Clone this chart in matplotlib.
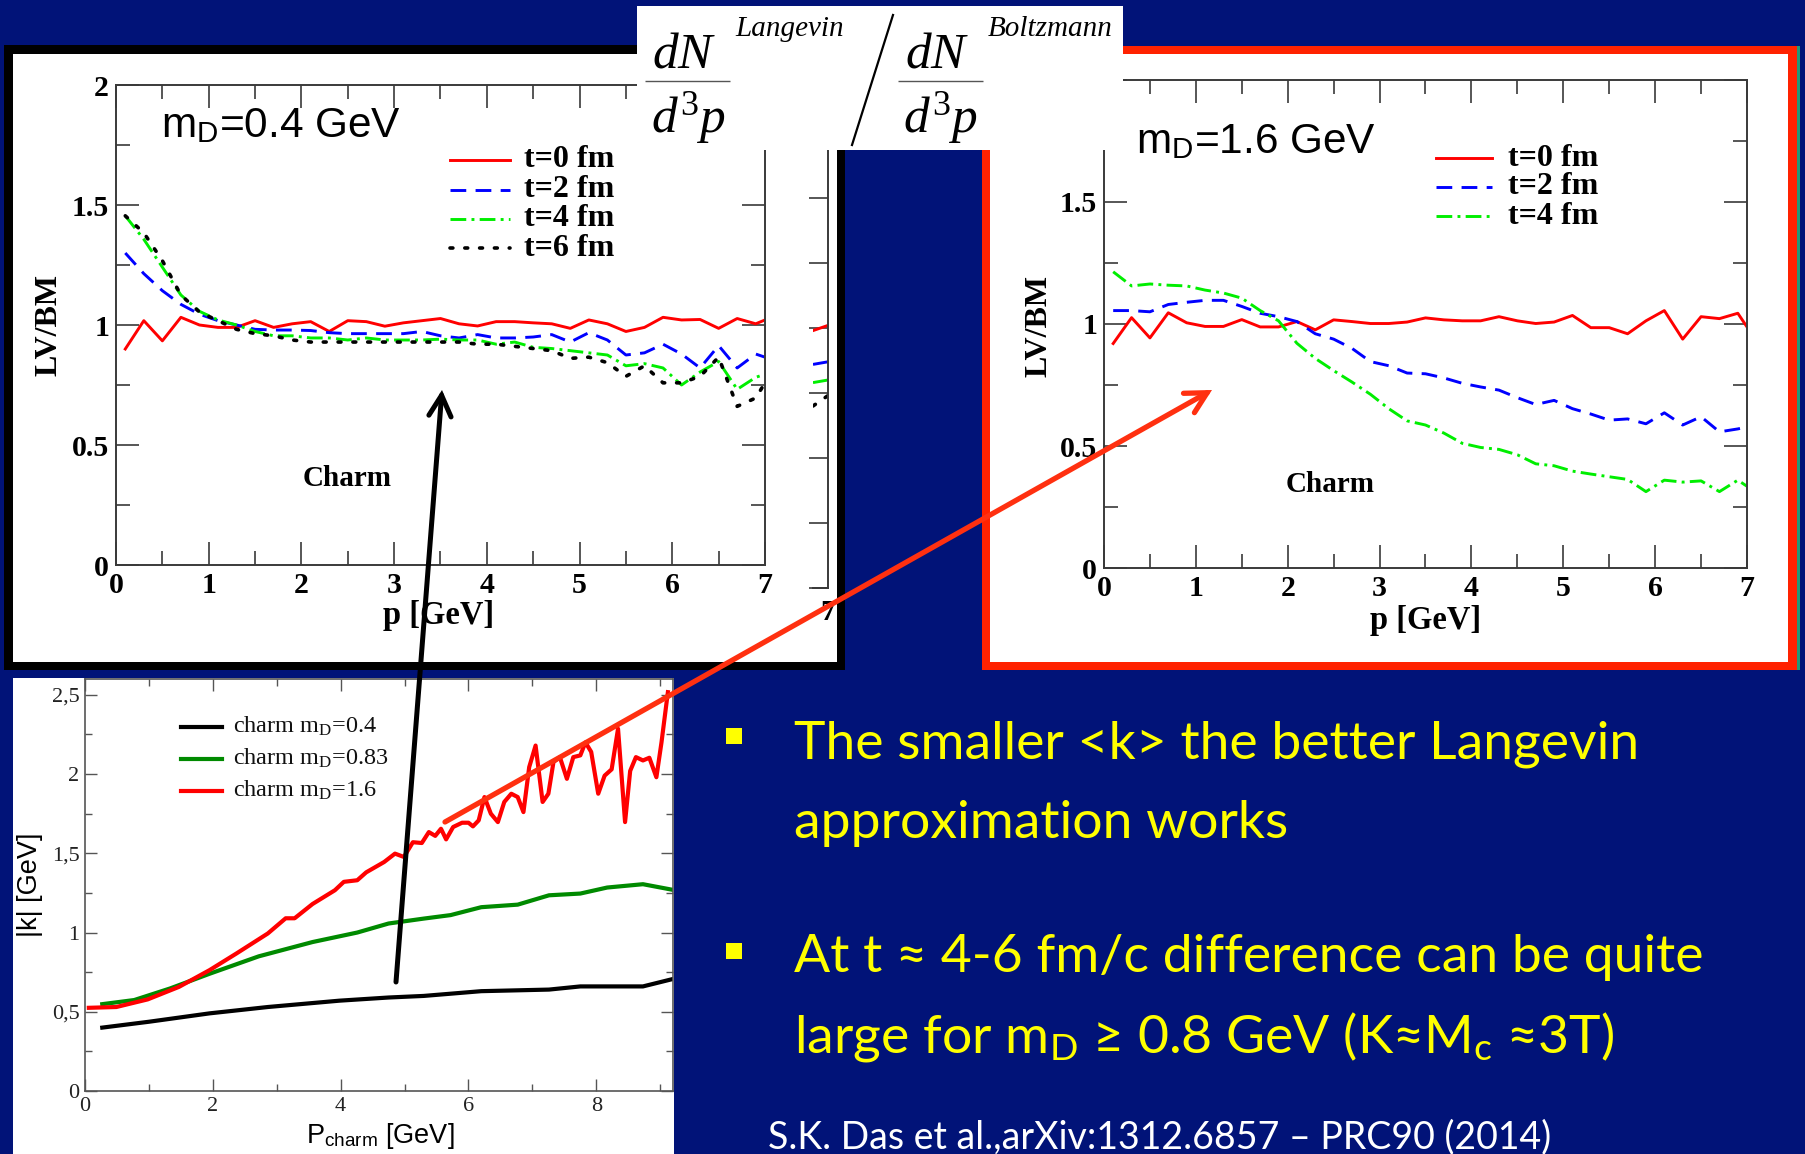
import matplotlib
matplotlib.use("Agg")
import matplotlib.pyplot as plt
from matplotlib.patches import Rectangle, FancyArrowPatch
from matplotlib.lines import Line2D
from matplotlib.ticker import MultipleLocator, FuncFormatter

plt.rcParams["mathtext.fontset"] = "custom"
plt.rcParams["mathtext.rm"] = "Liberation Serif"
plt.rcParams["mathtext.it"] = "Liberation Serif:italic"
plt.rcParams["mathtext.bf"] = "Liberation Serif:bold"

W, H = 1806, 1154
NAVY = "#011378"
SERIF = "Liberation Serif"
SANS = "Liberation Sans"
SLIDE_FONT = ["Lato", "DejaVu Sans"]

# LV/BM ratio vs p [GeV], charm, m_D = 0.4 GeV and m_D = 1.6 GeV
p_grid = [0.1, 0.3, 0.5, 0.7, 0.9, 1.1, 1.3, 1.5, 1.7, 1.9, 2.1, 2.3, 2.5, 2.7,
          2.9, 3.1, 3.3, 3.5, 3.7, 3.9, 4.1, 4.3, 4.5, 4.7, 4.9, 5.1, 5.3, 5.5,
          5.7, 5.9, 6.1, 6.3, 6.5, 6.7, 6.9, 7.0]

lv_04_t0 = [0.90, 1.018, 0.934, 1.032, 1.0, 0.99, 0.99, 1.018, 0.99, 1.005, 1.014, 0.973,
            1.018, 1.014, 0.995, 1.009, 1.018, 1.027, 1.005, 0.996, 1.014, 1.014, 1.009, 1.005,
            0.986, 1.021, 1.005, 0.973, 0.99, 1.032, 1.021, 1.023, 0.986, 1.027, 1.005, 1.021]
lv_04_t2 = [1.30, 1.214, 1.143, 1.086, 1.045, 1.018, 1.0, 0.982, 0.979, 0.979, 0.977, 0.968,
            0.964, 0.964, 0.964, 0.964, 0.973, 0.955, 0.946, 0.96, 0.946, 0.946, 0.95, 0.96,
            0.929, 0.968, 0.9375, 0.875, 0.884, 0.92, 0.879, 0.821, 0.914, 0.821, 0.879, 0.866]
lv_04_t4 = [1.455, 1.357, 1.241, 1.125, 1.057, 1.021, 1.0, 0.973, 0.955, 0.955, 0.946, 0.946,
            0.9375, 0.946, 0.9375, 0.9375, 0.9375, 0.941, 0.9375, 0.9375, 0.92, 0.929, 0.907, 0.902,
            0.893, 0.884, 0.875, 0.83, 0.839, 0.821, 0.75, 0.804, 0.848, 0.732, 0.782, 0.795]
lv_04_t6 = [1.455, 1.384, 1.268, 1.125, 1.054, 1.018, 0.982, 0.964, 0.955, 0.9375, 0.929, 0.929,
            0.929, 0.929, 0.929, 0.929, 0.929, 0.929, 0.929, 0.92, 0.92, 0.911, 0.902, 0.893,
            0.861, 0.866, 0.843, 0.786, 0.83, 0.759, 0.759, 0.786, 0.866, 0.661, 0.696, 0.759]

lv_16_t0 = [0.92, 1.026, 0.943, 1.046, 1.005, 0.99, 0.99, 1.018, 0.988, 0.988, 1.01, 0.976,
            1.017, 1.01, 1.002, 1.002, 1.008, 1.025, 1.017, 1.013, 1.013, 1.03, 1.013, 1.002,
            1.008, 1.035, 0.985, 0.985, 0.96, 1.013, 1.055, 0.938, 1.03, 1.022, 1.044, 0.988]
lv_16_t2 = [1.055, 1.055, 1.05, 1.08, 1.089, 1.097, 1.097, 1.072, 1.044, 1.03, 1.01, 0.96,
            0.938, 0.9, 0.846, 0.829, 0.799, 0.796, 0.779, 0.757, 0.742, 0.729, 0.698, 0.67,
            0.687, 0.653, 0.631, 0.606, 0.611, 0.591, 0.636, 0.586, 0.62, 0.558, 0.57, 0.578]
lv_16_t4 = [1.214, 1.156, 1.164, 1.159, 1.156, 1.139, 1.127, 1.106, 1.055, 1.013, 0.921, 0.859,
            0.809, 0.762, 0.712, 0.653, 0.603, 0.586, 0.553, 0.511, 0.494, 0.486, 0.464, 0.427,
            0.419, 0.397, 0.385, 0.374, 0.363, 0.313, 0.36, 0.352, 0.357, 0.313, 0.36, 0.335]

# right-hand edge of the neighbouring panel (only the last bit is shown)
side_p = [6.84, 7.0]
side_t0 = [0.99, 1.01]
side_t2 = [0.86, 0.87]
side_t4 = [0.79, 0.80]
side_t6 = [0.70, 0.74]

# mean momentum transfer |k| vs P_charm
k_p_04 = [0.27, 1.0, 1.95, 2.86, 3.98, 4.75, 5.3, 6.2, 7.26, 7.75, 8.73, 9.19]
k_04 = [0.40, 0.437, 0.49, 0.53, 0.57, 0.59, 0.60, 0.63, 0.64, 0.66, 0.66, 0.706]
k_p_083 = [0.27, 0.77, 1.33, 1.95, 2.72, 3.56, 4.26, 4.75, 5.3, 5.72, 6.2, 6.77, 7.26,
           7.75, 8.17, 8.73, 9.19]
k_083 = [0.548, 0.574, 0.647, 0.74, 0.85, 0.94, 1.0, 1.057, 1.088, 1.11, 1.16, 1.176, 1.235,
         1.246, 1.284, 1.305, 1.27]
k_p_16 = [0.06, 0.49, 0.98, 1.47, 1.95, 2.37, 2.86, 3.14, 3.28, 3.56, 3.91, 4.05, 4.26, 4.4,
          4.68, 4.85, 4.99, 5.13, 5.27, 5.38, 5.48, 5.57, 5.65, 5.76, 5.9, 6.0, 6.07, 6.16,
          6.25, 6.35, 6.46, 6.56, 6.67, 6.77, 6.86, 6.95, 7.05, 7.16, 7.25, 7.33, 7.43, 7.54,
          7.64, 7.75, 7.83, 7.92, 8.03, 8.13, 8.24, 8.34, 8.45, 8.53, 8.62, 8.73, 8.83, 8.94,
          9.02, 9.12]
k_16 = [0.525, 0.53, 0.578, 0.657, 0.763, 0.868, 0.994, 1.09, 1.09, 1.18, 1.267, 1.32, 1.33,
        1.38, 1.445, 1.498, 1.477, 1.57, 1.565, 1.634, 1.61, 1.655, 1.588, 1.666, 1.693, 1.693,
        1.67, 1.708, 1.855, 1.75, 1.697, 1.824, 1.876, 1.855, 1.76, 2.044, 2.18, 1.824, 1.876,
        2.076, 2.107, 1.97, 2.107, 2.118, 2.2, 2.14, 1.876, 1.99, 2.03, 2.286, 1.697, 2.02,
        2.107, 2.086, 2.103, 1.98, 2.2, 2.517]

lv_labels = ["t=0 fm", "t=2 fm", "t=4 fm", "t=6 fm"]
k_labels = [r"charm m$_\mathregular{D}$=0.4", r"charm m$_\mathregular{D}$=0.83",
            r"charm m$_\mathregular{D}$=1.6"]
notes = ["The smaller <k> the better Langevin",
         "approximation works",
         "At t \u2248 4-6 fm/c difference can be quite",
         "large for m$_\\mathregular{D}$ \u2265 0.8 GeV (K\u2248M$_\\mathregular{c}$ \u22483T)"]
reference = "S.K. Das et al.,arXiv:1312.6857 \u2013 PRC90 (2014)"

# line styles (colour, dash pattern, width) for t = 0, 2, 4, 6 fm
lv_styles = [("#ff0000", None, 2.1), ("#0000ff", (5.4, 3.2), 2.1),
             ("#00ee00", (5.4, 1.8, 1.0, 1.8), 2.1), ("#000000", (0.8, 3.3), 2.6)]
k_colors = ["#000000", "#008a00", "#ff0000"]


def fx(x):
    return x / W


def fy(y):
    return 1 - y / H


def px_box(x0, y0, x1, y1):
    return [x0 / W, 1 - y1 / H, (x1 - x0) / W, (y1 - y0) / H]


def add_rect(fig, x0, y0, x1, y1, color, z):
    fig.add_artist(Rectangle((fx(x0), fy(y1)), (x1 - x0) / W, (y1 - y0) / H,
                             transform=fig.transFigure, facecolor=color,
                             edgecolor="none", zorder=z))


def add_hline(fig, x0, x1, y, color, lw, z=6):
    fig.add_artist(Line2D([fx(x0), fx(x1)], [fy(y), fy(y)], transform=fig.transFigure,
                          color=color, lw=lw, zorder=z, solid_capstyle="butt"))


def apply_style(line, style):
    color, dashes, lw = style
    line.set_color(color)
    line.set_linewidth(lw)
    if dashes is not None:
        line.set_dashes(dashes)
        if dashes == lv_styles[3][1]:
            line.set_dash_capstyle("round")


def style_lv_axes(ax):
    ax.set_xlim(0, 7)
    ax.set_ylim(0, 2)
    ax.set_facecolor("none")
    ax.xaxis.set_major_locator(MultipleLocator(1))
    ax.xaxis.set_minor_locator(MultipleLocator(0.5))
    ax.yaxis.set_major_locator(MultipleLocator(0.5))
    ax.yaxis.set_minor_locator(MultipleLocator(0.25))
    fmt = FuncFormatter(lambda v, _: f"{v:g}")
    ax.xaxis.set_major_formatter(fmt)
    ax.yaxis.set_major_formatter(fmt)
    ax.tick_params(which="both", direction="in", top=True, right=True,
                   color="#3a3a3a", width=1.2)
    ax.tick_params(which="major", length=16.5, labelsize=21.5, pad=5,
                   labelfontfamily=SERIF)
    ax.tick_params(which="minor", length=10)
    for lbl in ax.get_xticklabels() + ax.get_yticklabels():
        lbl.set_fontweight("bold")
    for s in ax.spines.values():
        s.set_color("#3a3a3a")
        s.set_linewidth(1.4)


def lv_legend(fig, labels, x0, x1, xt, rows):
    for lab, st, yy in zip(labels, lv_styles, rows):
        ln = Line2D([fx(x0), fx(x1)], [fy(yy), fy(yy)], transform=fig.transFigure, zorder=3)
        apply_style(ln, st)
        fig.add_artist(ln)
        fig.text(fx(xt), fy(yy), lab, family=SERIF, weight="bold", fontsize=23, va="center")


fig = plt.figure(figsize=(W / 100, H / 100), dpi=100)
fig.patch.set_facecolor(NAVY)

# panel frames
add_rect(fig, 4, 45, 845, 670, "#000000", -3)
add_rect(fig, 13, 54, 837, 662, "#ffffff", -2)
add_rect(fig, 982, 46, 1797, 670, "#ff2200", -3)
add_rect(fig, 990, 54, 1788, 662, "#ffffff", -2)
add_rect(fig, 1797, 46, 1800, 670, "#1f9a78", -3)
add_rect(fig, 13, 678, 674, 1154, "#ffffff", -2)

# left panel: m_D = 0.4 GeV
ax1 = fig.add_axes(px_box(116, 85, 765, 565))
for vals, st in zip([lv_04_t0, lv_04_t2, lv_04_t4, lv_04_t6], lv_styles):
    line, = ax1.plot(p_grid, vals)
    apply_style(line, st)
style_lv_axes(ax1)
fig.text(fx(161), fy(137), r"m$_\mathregular{D}$=0.4 GeV", family=SANS, fontsize=30.5,
         va="baseline", ha="left")
lv_legend(fig, lv_labels, 450, 510, 524, [160, 190, 219, 248])
fig.text(fx(347), fy(478), "Charm", family=SERIF, weight="bold", fontsize=21,
         ha="center", va="center")
fig.text(fx(49), fy(325), "LV/BM", family=SERIF, weight="bold", fontsize=23,
         rotation=90, ha="center", va="center")
fig.text(fx(439), fy(615), "p [GeV]", family=SERIF, weight="bold", fontsize=23.5,
         ha="center", va="center")

# neighbouring panel edge
ax_side = fig.add_axes(px_box(813, 68, 828, 588))
for vals, st in zip([side_t0, side_t2, side_t4, side_t6], lv_styles):
    line, = ax_side.plot(side_p, vals)
    apply_style(line, st)
ax_side.set_xlim(6.84, 7.0)
ax_side.set_ylim(0, 2)
ax_side.set_facecolor("none")
ax_side.spines["left"].set_visible(False)
ax_side.spines["top"].set_visible(False)
for s in ["right", "bottom"]:
    ax_side.spines[s].set_color("#3a3a3a")
    ax_side.spines[s].set_linewidth(1.4)
ax_side.set_xticks([7.0])
ax_side.xaxis.set_major_formatter(FuncFormatter(lambda v, _: f"{v:g}"))
ax_side.yaxis.set_major_locator(MultipleLocator(0.25))
ax_side.tick_params(axis="y", direction="in", left=False, right=True, labelleft=False,
                    length=14, color="#3a3a3a", width=1.2)
ax_side.tick_params(axis="x", length=0, labelsize=21.5, pad=8, labelfontfamily=SERIF)
for lbl in ax_side.get_xticklabels():
    lbl.set_fontweight("bold")

# right panel: m_D = 1.6 GeV
ax2 = fig.add_axes(px_box(1104, 80, 1747, 568))
for vals, st in zip([lv_16_t0, lv_16_t2, lv_16_t4], lv_styles):
    line, = ax2.plot(p_grid, vals)
    apply_style(line, st)
style_lv_axes(ax2)
fig.text(fx(1136), fy(153), r"m$_\mathregular{D}$=1.6 GeV", family=SANS, fontsize=30.5,
         va="baseline", ha="left")
lv_legend(fig, lv_labels[:3], 1436, 1492, 1508, [158, 187, 216])
fig.text(fx(1330), fy(485), "Charm", family=SERIF, weight="bold", fontsize=21,
         ha="center", va="center")
fig.text(fx(1039), fy(326), "LV/BM", family=SERIF, weight="bold", fontsize=23,
         rotation=90, ha="center", va="center")
fig.text(fx(1426), fy(620), "p [GeV]", family=SERIF, weight="bold", fontsize=23.5,
         ha="center", va="center")

# bottom panel: |k| vs P_charm
ax3 = fig.add_axes(px_box(85, 679, 673, 1091))
for xs, ys, c in zip([k_p_04, k_p_083, k_p_16], [k_04, k_083, k_16], k_colors):
    ax3.plot(xs, ys, color=c, lw=3.0)
ax3.set_xlim(0, 9.2)
ax3.set_ylim(0, 2.6)
ax3.set_facecolor("none")
ax3.xaxis.set_major_locator(MultipleLocator(2))
ax3.xaxis.set_minor_locator(MultipleLocator(1))
ax3.yaxis.set_major_locator(MultipleLocator(0.5))
ax3.yaxis.set_minor_locator(MultipleLocator(0.25))
comma = FuncFormatter(lambda v, _: f"{v:g}".replace(".", ","))
ax3.xaxis.set_major_formatter(comma)
ax3.yaxis.set_major_formatter(comma)
ax3.tick_params(which="both", direction="in", top=True, right=True, color="#555555",
                width=1.0, labelcolor="#222222")
ax3.tick_params(which="major", length=8.5, labelsize=16, pad=4, labelfontfamily=SERIF)
ax3.tick_params(which="minor", length=5)
for s in ax3.spines.values():
    s.set_color("#555555")
    s.set_linewidth(1.2)
for lab, c, yy in zip(k_labels, k_colors, [727, 759, 791]):
    fig.add_artist(Line2D([fx(181), fx(222)], [fy(yy), fy(yy)], transform=fig.transFigure,
                          color=c, lw=3.0, zorder=3))
    fig.text(fx(233), fy(yy + 6), lab, family=SERIF, fontsize=17.5, va="baseline",
             color="#111111")
fig.text(fx(30), fy(885), "|k| [GeV]", family=SANS, fontsize=19.5, rotation=90,
         ha="center", va="center")
fig.text(fx(380), fy(1143), r"P$_\mathregular{charm}$ [GeV]", family=SANS, fontsize=19.5,
         ha="center", va="baseline")

# dN/d3p ratio header
add_rect(fig, 637, 6, 1123, 150, "#ffffff", 5)
for cx_num, cx_den, x0, x1, sup_x, sup in [(684, 688, 645, 730, 735, "Langevin"),
                                           (937, 940, 898, 983, 988, "Boltzmann")]:
    fig.text(fx(cx_num), fy(67), r"$dN$", fontsize=37, ha="center", va="baseline", zorder=6)
    fig.text(fx(cx_den), fy(132), r"$d^3p$", fontsize=37, ha="center", va="baseline",
             zorder=6)
    add_hline(fig, x0, x1, 81, "#555555", 1.0)
    fig.text(fx(sup_x), fy(36), sup, family=SERIF, style="italic", fontsize=21,
             va="baseline", zorder=6)
fig.add_artist(Line2D([fx(893), fx(852)], [fy(15), fy(145)], transform=fig.transFigure,
                      color="#000000", lw=1.6, zorder=6))

# pointers from the |k| curves to the ratio panels
for (xa, ya), (xb, yb), c, lw in [((396, 982), (442, 390), "#000000", 3.6),
                                  ((445, 822), (1212, 390), "#ff3010", 3.8)]:
    fig.add_artist(FancyArrowPatch((fx(xa), fy(ya)), (fx(xb), fy(yb)),
                                   transform=fig.transFigure,
                                   arrowstyle="->,head_length=15,head_width=8",
                                   mutation_scale=1, color=c, lw=lw, zorder=10,
                                   shrinkA=0, shrinkB=0, capstyle="round",
                                   joinstyle="miter"))

# bullet text
for y0 in [728, 943]:
    add_rect(fig, 726, y0, 742, y0 + 16, "#ffff00", 3)
for txt, yb in zip(notes, [758, 838, 972, 1053]):
    fig.text(fx(794), fy(yb), txt, family=SLIDE_FONT, fontsize=38.5, color="#ffff00",
             va="baseline", ha="left")
fig.text(fx(768), fy(1148), reference, family=SLIDE_FONT, fontsize=27, color="#ffffff",
         va="baseline", ha="left")

fig.savefig("out.png", dpi=100, facecolor=NAVY)
